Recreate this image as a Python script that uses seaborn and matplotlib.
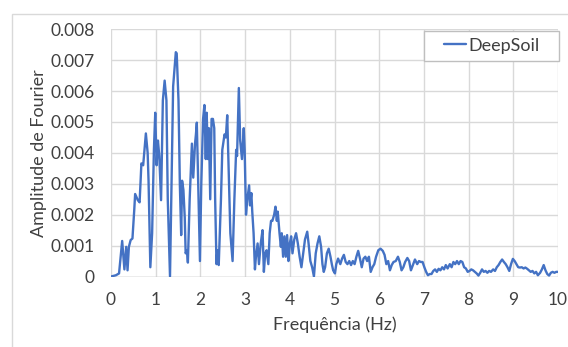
import matplotlib
matplotlib.use("Agg")
import matplotlib.pyplot as plt
from matplotlib.patches import Rectangle
import seaborn as sns
import pandas as pd

# Frequency (Hz)
freq = [0.00, 0.11, 0.18, 0.25, 0.30, 0.34, 0.37, 0.40, 0.44, 0.48, 0.52, 0.54, 0.60, 0.64, 0.68, 0.72,
        0.78, 0.82, 0.84, 0.88, 0.92, 0.96, 0.99, 1.02, 1.05, 1.08, 1.12, 1.16, 1.20, 1.24, 1.27, 1.32,
        1.36, 1.39, 1.45, 1.47, 1.51, 1.54, 1.57, 1.59, 1.62, 1.65, 1.67, 1.70, 1.72, 1.76, 1.81, 1.84,
        1.88, 1.90, 1.92, 1.96, 1.99, 2.02, 2.06, 2.09, 2.12, 2.14, 2.17, 2.19, 2.22, 2.25, 2.28, 2.31,
        2.33, 2.36, 2.38, 2.41, 2.46, 2.49, 2.54, 2.57, 2.60, 2.64, 2.67, 2.72, 2.76, 2.80, 2.82, 2.86,
        2.89, 2.93, 2.97, 2.99, 3.02, 3.05, 3.09, 3.11, 3.14, 3.16, 3.19, 3.22, 3.24, 3.28, 3.31, 3.35,
        3.39, 3.42, 3.45, 3.48, 3.52, 3.55, 3.58, 3.61, 3.65, 3.68, 3.71, 3.73, 3.77, 3.80, 3.82, 3.85,
        3.88, 3.91, 3.94, 3.97, 4.00, 4.03, 4.06, 4.10, 4.14, 4.18, 4.22, 4.26, 4.30, 4.34, 4.39, 4.42,
        4.46, 4.50, 4.54, 4.58, 4.62, 4.66, 4.70, 4.73, 4.76, 4.79, 4.83, 4.87, 4.91, 4.94, 4.97, 5.01,
        5.04, 5.08, 5.13, 5.17, 5.21, 5.25, 5.29, 5.33, 5.37, 5.41, 5.45, 5.49, 5.53, 5.57, 5.61, 5.65,
        5.69, 5.73, 5.77, 5.81, 5.85, 5.89, 5.93, 5.98, 6.03, 6.08, 6.12, 6.16, 6.20, 6.24, 6.28, 6.32,
        6.37, 6.42, 6.46, 6.50, 6.54, 6.58, 6.63, 6.67, 6.71, 6.76, 6.80, 6.85, 6.89, 6.93, 6.97, 7.01,
        7.05, 7.09, 7.13, 7.17, 7.21, 7.25, 7.29, 7.33, 7.37, 7.41, 7.45, 7.49, 7.53, 7.58, 7.62, 7.66,
        7.70, 7.74, 7.78, 7.82, 7.86, 7.90, 7.94, 7.98, 8.02, 8.06, 8.10, 8.14, 8.18, 8.22, 8.26, 8.30,
        8.34, 8.38, 8.42, 8.46, 8.50, 8.55, 8.59, 8.63, 8.67, 8.71, 8.75, 8.79, 8.83, 8.87, 8.91, 8.95,
        8.99, 9.03, 9.07, 9.11, 9.15, 9.19, 9.23, 9.27, 9.31, 9.35, 9.39, 9.43, 9.47, 9.51, 9.55, 9.60,
        9.64, 9.68, 9.72, 9.76, 9.80, 9.84, 9.88, 9.92, 9.96, 10.00]

# Fourier amplitude
amplitude = [0.00000, 0.00004, 0.00010, 0.00115, 0.00023, 0.00096, 0.00020, 0.00096, 0.00118, 0.00123,
             0.00215, 0.00267, 0.00247, 0.00240, 0.00366, 0.00360, 0.00463, 0.00400, 0.00310, 0.00030,
             0.00140, 0.00410, 0.00530, 0.00360, 0.00440, 0.00390, 0.00247, 0.00570, 0.00634, 0.00570,
             0.00250, 0.00000, 0.00355, 0.00615, 0.00726, 0.00722, 0.00570, 0.00300, 0.00134, 0.00310,
             0.00280, 0.00190, 0.00075, 0.00085, 0.00045, 0.00250, 0.00430, 0.00320, 0.00430, 0.00460,
             0.00498, 0.00250, 0.00050, 0.00300, 0.00510, 0.00555, 0.00380, 0.00530, 0.00380, 0.00480,
             0.00250, 0.00510, 0.00510, 0.00480, 0.00250, 0.00040, 0.00085, 0.00037, 0.00250, 0.00410,
             0.00460, 0.00450, 0.00522, 0.00300, 0.00140, 0.00050, 0.00250, 0.00410, 0.00390, 0.00610,
             0.00440, 0.00380, 0.00480, 0.00410, 0.00200, 0.00250, 0.00295, 0.00230, 0.00270, 0.00210,
             0.00140, 0.00023, 0.00060, 0.00107, 0.00040, 0.00107, 0.00150, 0.00015, 0.00075, 0.00085,
             0.00040, 0.00140, 0.00180, 0.00180, 0.00200, 0.00226, 0.00180, 0.00210, 0.00140, 0.00096,
             0.00140, 0.00064, 0.00130, 0.00064, 0.00134, 0.00050, 0.00107, 0.00130, 0.00075, 0.00120,
             0.00140, 0.00107, 0.00064, 0.00030, 0.00075, 0.00120, 0.00145, 0.00107, 0.00050, 0.00030,
             0.00000, 0.00075, 0.00107, 0.00130, 0.00096, 0.00040, 0.00015, 0.00030, 0.00075, 0.00090,
             0.00064, 0.00040, 0.00020, 0.00010, 0.00040, 0.00058, 0.00040, 0.00058, 0.00070, 0.00047,
             0.00040, 0.00050, 0.00037, 0.00050, 0.00040, 0.00064, 0.00083, 0.00058, 0.00030, 0.00058,
             0.00064, 0.00050, 0.00064, 0.00015, 0.00030, 0.00040, 0.00064, 0.00085, 0.00090, 0.00083,
             0.00070, 0.00040, 0.00050, 0.00020, 0.00037, 0.00047, 0.00050, 0.00064, 0.00047, 0.00020,
             0.00030, 0.00047, 0.00060, 0.00050, 0.00020, 0.00040, 0.00055, 0.00040, 0.00050, 0.00047,
             0.00047, 0.00030, 0.00015, 0.00004, 0.00008, 0.00008, 0.00018, 0.00023, 0.00015, 0.00025,
             0.00020, 0.00030, 0.00023, 0.00037, 0.00026, 0.00040, 0.00030, 0.00047, 0.00040, 0.00050,
             0.00040, 0.00050, 0.00047, 0.00030, 0.00026, 0.00015, 0.00018, 0.00023, 0.00020, 0.00015,
             0.00010, 0.00003, 0.00012, 0.00023, 0.00015, 0.00018, 0.00012, 0.00018, 0.00015, 0.00023,
             0.00018, 0.00030, 0.00037, 0.00047, 0.00055, 0.00047, 0.00040, 0.00030, 0.00018, 0.00040,
             0.00057, 0.00050, 0.00040, 0.00030, 0.00029, 0.00030, 0.00026, 0.00029, 0.00025, 0.00020,
             0.00015, 0.00018, 0.00010, 0.00015, 0.00004, 0.00012, 0.00023, 0.00037, 0.00020, 0.00008,
             0.00003, 0.00012, 0.00015, 0.00012, 0.00015, 0.00015]

series_name = "DeepSoil"
x_ticks = [0, 1, 2, 3, 4, 5, 6, 7, 8, 9, 10]
y_ticks = [0, 0.001, 0.002, 0.003, 0.004, 0.005, 0.006, 0.007, 0.008]
y_tick_labels = ["0", "0.001", "0.002", "0.003", "0.004", "0.005", "0.006", "0.007", "0.008"]

df = pd.DataFrame({"Frequência (Hz)": freq, "Amplitude de Fourier": amplitude,
                   "Série": [series_name] * len(freq)})

sns.set_theme(style="whitegrid")
plt.rcParams["font.family"] = ["Lato", "DejaVu Sans"]

W, H = 568, 347
fig = plt.figure(figsize=(W / 100, H / 100), dpi=100)
fig.patch.set_facecolor("white")
ax = fig.add_axes([111 / W, 1 - 276.5 / H, (558 - 111) / W, (276.5 - 29.3) / H])

# outer chart-area frame (partly visible at left and top)
fig.patches.append(Rectangle((12 / W, -0.1), 1.2, (1 - 13.5 / H) + 0.1, transform=fig.transFigure,
                             fill=False, edgecolor="#D9D9D9", linewidth=1.0))

sns.lineplot(data=df, x="Frequência (Hz)", y="Amplitude de Fourier", color="#4472C4",
             linewidth=1.7, ax=ax, legend=False, label=series_name)

ax.set_xlim(0, 10)
ax.set_ylim(0, 0.008)
ax.set_xticks(x_ticks)
ax.set_xticklabels([str(t) for t in x_ticks])
ax.set_yticks(y_ticks)
ax.set_yticklabels(y_tick_labels)
ax.grid(True, color="#D9D9D9", linewidth=1.0)
for s in ax.spines.values():
    s.set_visible(False)
ax.axhline(0, color="#BFBFBF", linewidth=1.0, zorder=1)
ax.tick_params(axis="both", length=0, labelsize=12.5, labelcolor="#404040")
ax.tick_params(axis="y", pad=12)
ax.tick_params(axis="x", pad=11)

ax.set_xlabel("Frequência (Hz)", fontsize=13, color="#404040")
ax.set_ylabel("Amplitude de Fourier", fontsize=13, color="#404040")
ax.xaxis.set_label_coords(0.5, -0.16)
ax.yaxis.set_label_coords(-0.143, 0.5)

# legend box
ax.add_patch(Rectangle(((424 - 111) / 447, (276.5 - 60.7) / 247.2), (559 - 424) / 447, 30 / 247.2,
                       transform=ax.transAxes, facecolor="white", edgecolor="#BFBFBF",
                       linewidth=1.0, clip_on=False, zorder=5))
leg = ax.legend(loc="center", bbox_to_anchor=((492 - 111) / 447, (276.5 - 45.7) / 247.2),
                frameon=False, fontsize=13, handlelength=1.2, handletextpad=0.12,
                borderaxespad=0, borderpad=0)
for t in leg.get_texts():
    t.set_color("#404040")
leg.set_zorder(6)

fig.savefig("out.png", dpi=100)
